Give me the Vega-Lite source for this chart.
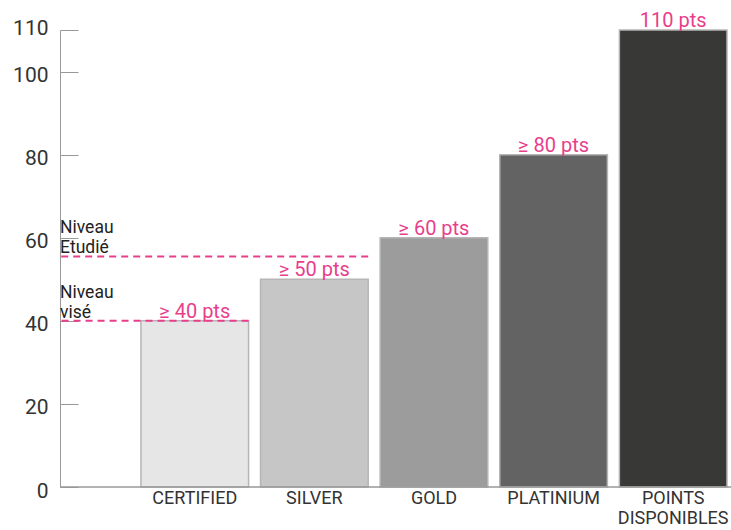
{
  "$schema": "https://vega.github.io/schema/vega-lite/v6.json",
  "width": 671,
  "height": 457,
  "autosize": "none",
  "padding": {"left": 60, "top": 30, "right": 0, "bottom": 43},
  "background": "white",
  "config": {"view": {"stroke": null}},
  "datasets": {
    "bars": [
      {"cat": "CERTIFIED", "value": 40, "label": "≥ 40 pts"},
      {"cat": "SILVER", "value": 50, "label": "≥ 50 pts"},
      {"cat": "GOLD", "value": 60, "label": "≥ 60 pts"},
      {"cat": "PLATINIUM", "value": 80, "label": "≥ 80 pts"},
      {"cat": "POINTS DISPONIBLES", "value": 110, "label": "110 pts"}
    ],
    "levels": [
      {"level": ["Niveau", "visé"], "value": 40, "until": "CERTIFIED"},
      {"level": ["Niveau", "Etudié"], "value": 55.5, "until": "SILVER"}
    ]
  },
  "layer": [
    {
      "data": {"name": "bars"},
      "mark": {"type": "bar", "stroke": "#b5b5b5", "strokeWidth": 1.5},
      "encoding": {
        "x": {
          "field": "cat", "type": "nominal", "sort": null,
          "scale": {
            "domain": ["CERTIFIED", "SILVER", "GOLD", "PLATINIUM", "POINTS DISPONIBLES"],
            "paddingInner": 0.1, "paddingOuter": 0.355, "align": 0.953
          },
          "axis": {
            "title": null, "domain": false, "ticks": false, "labelAngle": 0,
            "labelFont": "Roboto, sans-serif",
            "labelFontSize": 18, "labelColor": "#333333", "labelPadding": 2,
            "labelLineHeight": 20,
            "labelExpr": "datum.label == 'POINTS DISPONIBLES' ? ['POINTS', 'DISPONIBLES'] : datum.label"
          }
        },
        "y": {
          "field": "value", "type": "quantitative",
          "scale": {"domain": [0, 110], "nice": false},
          "axis": {
            "title": null, "grid": false,
            "values": [0, 20, 40, 60, 80, 100, 110],
            "tickSize": -18, "tickColor": "#999999", "domainColor": "#999999",
            "labelPadding": 30,
            "labelFont": "Roboto, sans-serif",
            "labelFontSize": 21, "labelColor": "#333333",
            "labelOffset": {"condition": {"test": "datum.value == 110", "value": -2}, "value": 4}
          }
        },
        "color": {
          "field": "cat", "type": "nominal", "legend": null,
          "scale": {
            "domain": ["CERTIFIED", "SILVER", "GOLD", "PLATINIUM", "POINTS DISPONIBLES"],
            "range": ["#e6e6e6", "#c6c6c6", "#9c9c9c", "#636363", "#383837"]
          }
        }
      }
    },
    {
      "data": {"name": "bars"},
      "mark": {
        "type": "text", "baseline": "alphabetic", "align": "center", "dy": -3,
        "font": "Roboto, sans-serif", "fontSize": 20, "color": "#e83e8c"
      },
      "encoding": {
        "x": {"field": "cat", "type": "nominal", "sort": null},
        "y": {"field": "value", "type": "quantitative"},
        "text": {"field": "label"}
      }
    },
    {
      "data": {"values": [{"base": 0}]},
      "mark": {"type": "rule", "color": "#999999", "strokeWidth": 1.5},
      "encoding": {"y": {"field": "base", "type": "quantitative"}}
    },
    {
      "data": {"name": "levels"},
      "mark": {"type": "rule", "color": "#e83e8c", "strokeWidth": 2, "strokeDash": [7, 5]},
      "encoding": {
        "x": {"field": "until", "type": "nominal", "sort": null, "bandPosition": 1},
        "x2": {"value": 0},
        "y": {"field": "value", "type": "quantitative"}
      }
    },
    {
      "data": {"name": "levels"},
      "mark": {
        "type": "text", "align": "left", "baseline": "alphabetic", "lineHeight": 20, "dy": -23,
        "font": "Roboto, sans-serif", "fontSize": 17.5, "color": "#222222"
      },
      "encoding": {
        "x": {"value": 0},
        "y": {"field": "value", "type": "quantitative"},
        "text": {"field": "level"}
      }
    }
  ]
}
